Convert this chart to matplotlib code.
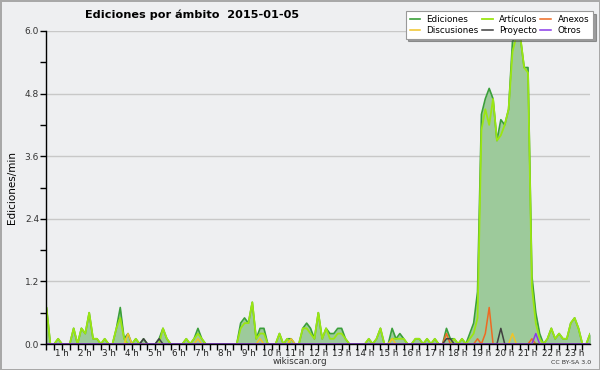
import numpy as np
import matplotlib
matplotlib.use("Agg")
import matplotlib.pyplot as plt
from matplotlib.ticker import MultipleLocator, FixedLocator

# edits per minute, one value per 10-minute bin (144 bins for the day)
ediciones = [
    0, 0, 0.7, 0, 0, 0.1, 0, 0, 0, 0.3, 0, 0.3,
    0.2, 0.6, 0.1, 0.1, 0, 0.1, 0, 0, 0.3, 0.7, 0.1, 0.2,
    0, 0.1, 0, 0.1, 0, 0, 0, 0.1, 0.3, 0.1, 0, 0,
    0, 0, 0.1, 0, 0.1, 0.3, 0.1, 0, 0, 0, 0, 0,
    0, 0, 0, 0, 0.4, 0.5, 0.4, 0.8, 0.1, 0.3, 0.3, 0,
    0, 0, 0.2, 0, 0.1, 0.1, 0, 0, 0.3, 0.4, 0.3, 0.1,
    0.6, 0.1, 0.3, 0.2, 0.2, 0.3, 0.3, 0.1, 0, 0, 0, 0,
    0, 0.1, 0, 0.1, 0.3, 0, 0, 0.3, 0.1, 0.2, 0.1, 0,
    0, 0.1, 0.1, 0, 0.1, 0, 0.1, 0, 0, 0.3, 0.1, 0.1,
    0, 0.1, 0, 0.2, 0.4, 1.0, 4.4, 4.7, 4.9, 4.7, 3.9, 4.3,
    4.2, 4.5, 5.8, 5.9, 5.9, 5.3, 5.3, 1.3, 0.6, 0.2, 0, 0.1,
    0.3, 0.1, 0.2, 0.1, 0.1, 0.4, 0.5, 0.3, 0, 0, 0.2, 0,
]
articulos = [
    0, 0, 0.7, 0, 0, 0.1, 0, 0, 0, 0.3, 0, 0.3,
    0.2, 0.6, 0.1, 0.1, 0, 0.1, 0, 0, 0.3, 0.5, 0.1, 0,
    0, 0.1, 0, 0, 0, 0, 0, 0, 0.3, 0.1, 0, 0,
    0, 0, 0.1, 0, 0.1, 0.2, 0.1, 0, 0, 0, 0, 0,
    0, 0, 0, 0, 0.3, 0.4, 0.4, 0.8, 0.1, 0.2, 0.2, 0,
    0, 0, 0.2, 0, 0.1, 0, 0, 0, 0.3, 0.3, 0.2, 0.1,
    0.6, 0.1, 0.3, 0.1, 0.1, 0.2, 0.2, 0.1, 0, 0, 0, 0,
    0, 0.1, 0, 0.1, 0.3, 0, 0, 0.1, 0.1, 0.1, 0.1, 0,
    0, 0.1, 0.1, 0, 0.1, 0, 0.1, 0, 0, 0, 0, 0.1,
    0, 0.1, 0, 0.1, 0.2, 0.5, 4.1, 4.5, 4.2, 4.7, 3.9, 4.0,
    4.2, 4.5, 5.6, 5.9, 5.9, 5.3, 5.2, 1.1, 0.4, 0.1, 0, 0.1,
    0.3, 0.1, 0.2, 0.1, 0.1, 0.4, 0.5, 0.3, 0, 0, 0.2, 0,
]

# sparse series: bin index -> value
discusiones_bins = [23, 41, 57, 65, 91, 122]
discusiones_vals = [0.2, 0.1, 0.1, 0.1, 0.1, 0.2]
anexos_bins = [105, 113, 115, 116, 127]
anexos_vals = [0.2, 0.1, 0.2, 0.7, 0.1]
proyecto_bins = [27, 31, 105, 106, 119]
proyecto_vals = [0.1, 0.1, 0.1, 0.1, 0.3]
otros_bins = [128]
otros_vals = [0.2]

hour_labels = ["%d h" % h for h in range(1, 24)]


def expand(bins, vals):
    arr = np.zeros(144)
    arr[bins] = vals
    return arr


hours = np.arange(144) / 6.0
bg = "#eeeff1"

fig = plt.figure(figsize=(6, 3.7), dpi=100, facecolor=bg)
fig.patch.set_edgecolor("#a8a8a8")
fig.patch.set_linewidth(2)
ax = fig.add_axes([46 / 600, 1 - 344 / 370, 544 / 600, 313 / 370])
ax.set_facecolor(bg)

ax.fill_between(hours, ediciones, color="#9dca9b", lw=0, zorder=1)
ax.plot(hours, ediciones, color="#3a9f3a", lw=1.2, zorder=2, label="Ediciones")
ax.plot(hours, articulos, color="#9be612", lw=1.3, zorder=2.1, label="Artículos")
ax.plot(hours, expand(anexos_bins, anexos_vals), color="#ee6a22", lw=1.1, zorder=2.2, label="Anexos")
ax.plot(hours, expand(discusiones_bins, discusiones_vals), color="#f0c428", lw=1.1, zorder=2.2, label="Discusiones")
ax.plot(hours, expand(proyecto_bins, proyecto_vals), color="#404040", lw=1.1, zorder=2.2, label="Proyecto")
ax.plot(hours, expand(otros_bins, otros_vals), color="#8a3ae8", lw=1.1, zorder=2.2, label="Otros")

ax.set_xlim(0.313, 23.66)
ax.set_ylim(0, 6.0)

ax.set_yticks([0, 1.2, 2.4, 3.6, 4.8, 6.0])
ax.set_yticklabels(["0.0", "1.2", "2.4", "3.6", "4.8", "6.0"])
ax.yaxis.set_minor_locator(MultipleLocator(0.6))
ax.set_xticks(range(1, 24))
ax.set_xticklabels(hour_labels)
ax.xaxis.set_minor_locator(FixedLocator(np.arange(1, 72) / 3.0))

ax.tick_params(axis="y", which="both", length=4, width=1, direction="out",
               labelsize=6.5, labelcolor="#333333", pad=1)
ax.tick_params(axis="x", which="both", length=4, width=1, direction="out",
               labelsize=6.3, labelcolor="#222222", pad=-0.5)

ax.grid(axis="y", color="#c8c8c8", lw=1)
ax.set_axisbelow(True)
for s in ["top", "right"]:
    ax.spines[s].set_visible(False)
for s in ["left", "bottom"]:
    ax.spines[s].set_linewidth(1)
    ax.spines[s].set_zorder(3)

fig.text(85 / 600, 1 - 15 / 370, "Ediciones por ámbito  2015-01-05", fontsize=8.1,
         fontweight="bold", va="center", ha="left")
fig.text(12 / 600, 1 - 188 / 370, "Ediciones/min", rotation=90, fontsize=7.5,
         va="center", ha="center")
fig.text(300 / 600, 1 - 362 / 370, "wikiscan.org", fontsize=6.3, va="center",
         ha="center", color="#333333")
fig.text(591 / 600, 1 - 362 / 370, "CC BY-SA 3.0", fontsize=4.5, va="center",
         ha="right", color="#333333")

handles, labels = ax.get_legend_handles_labels()
order = [0, 3, 1, 4, 2, 5]
leg = ax.legend([handles[i] for i in order], [labels[i] for i in order],
                loc="upper right", bbox_to_anchor=(593 / 600, 1 - 11 / 370),
                bbox_transform=fig.transFigure, ncol=3, fontsize=6.3,
                frameon=True, fancybox=False, shadow=True, handlelength=1.25,
                handletextpad=0.7, columnspacing=0.35, labelspacing=0.2,
                borderpad=0.45, borderaxespad=0)
leg.get_frame().set_edgecolor("#999999")
leg.get_frame().set_linewidth(0.8)
leg.set_zorder(5)

fig.savefig("out.png", dpi=100, facecolor=fig.get_facecolor(),
            edgecolor=fig.get_edgecolor())
